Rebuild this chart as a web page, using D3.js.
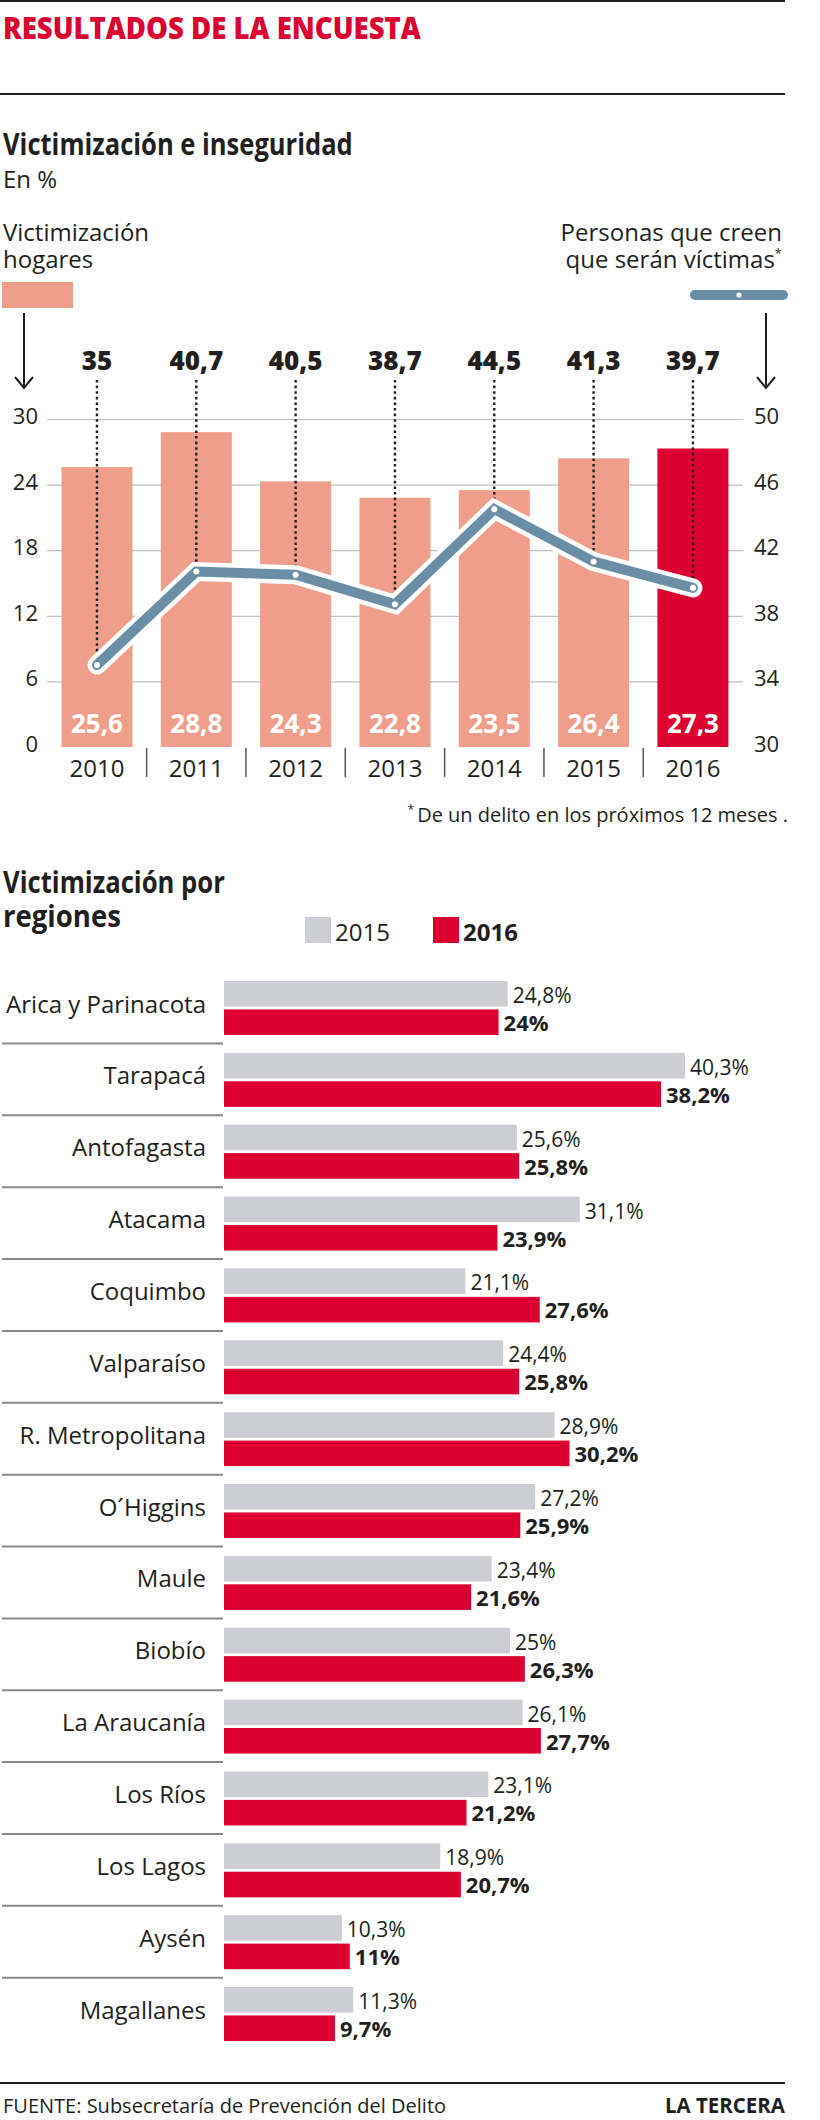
<!DOCTYPE html>
<html><head><meta charset="utf-8">
<script src="https://cdn.jsdelivr.net/npm/d3@7"></script>
<style>
body{margin:0;background:#fff;}
svg{display:block;font-family:"Open Sans","Noto Sans",sans-serif;}
</style>
</head><body>
<svg id="c" width="820" height="2120"></svg>
<script>
// ---------- data ----------
const years = ["2010","2011","2012","2013","2014","2015","2016"];
const victimHogares = [25.6, 28.8, 24.3, 22.8, 23.5, 26.4, 27.3];
const creenVictimas = [35, 40.7, 40.5, 38.7, 44.5, 41.3, 39.7];
const leftTicks = [0, 6, 12, 18, 24, 30];
const rightTicks = [30, 34, 38, 42, 46, 50];

const regions = ["Arica y Parinacota","Tarapacá","Antofagasta","Atacama","Coquimbo","Valparaíso",
  "R. Metropolitana","O´Higgins","Maule","Biobío","La Araucanía","Los Ríos","Los Lagos","Aysén","Magallanes"];
const reg2015 = [24.8, 40.3, 25.6, 31.1, 21.1, 24.4, 28.9, 27.2, 23.4, 25, 26.1, 23.1, 18.9, 10.3, 11.3];
const reg2016 = [24, 38.2, 25.8, 23.9, 27.6, 25.8, 30.2, 25.9, 21.6, 26.3, 27.7, 21.2, 20.7, 11, 9.7];
const seriesYears = ["2015", "2016"];

// ---------- style ----------
const ink = "#231f20", red = "#dc0030", salmon = "#ef9e8b", grey = "#cdced3", blue = "#6a8ea6";
const fmt = v => String(v).replace(".", ",");
const svg = d3.select("#c");

function condense(sel, target) {
  const w = sel.node().getComputedTextLength();
  const x = +sel.attr("x"), y = +sel.attr("y");
  const f = target / w;
  sel.attr("transform", `translate(${x},${y}) scale(${f},1) translate(${-x},${-y})`);
  return f;
}

// ---------- header ----------
svg.append("line").attr("x1",0).attr("x2",785).attr("y1",1).attr("y2",1).attr("stroke",ink).attr("stroke-width",2);
const t1 = svg.append("text").attr("x",3).attr("y",39).attr("fill",red).attr("font-size",30).attr("font-weight",800)
  .text("RESULTADOS DE LA ENCUESTA");
condense(t1, 418);
svg.append("line").attr("x1",0).attr("x2",785).attr("y1",94).attr("y2",94).attr("stroke",ink).attr("stroke-width",2);

const st = svg.append("text").attr("x",3).attr("y",155).attr("fill",ink).attr("font-size",31).attr("font-weight",700)
  .text("Victimización e inseguridad");
condense(st, 350);
svg.append("text").attr("x",3).attr("y",188).attr("fill",ink).attr("font-size",24).text("En %");

// legends
svg.append("text").attr("x",3).attr("y",241).attr("fill",ink).attr("font-size",24).text("Victimización");
svg.append("text").attr("x",3).attr("y",268).attr("fill",ink).attr("font-size",24).text("hogares");
svg.append("rect").attr("x",2).attr("y",282).attr("width",71).attr("height",26).attr("fill",salmon);

svg.append("text").attr("x",782).attr("y",241).attr("text-anchor","end").attr("fill",ink).attr("font-size",24).text("Personas que creen");
const lt2 = svg.append("text").attr("x",782).attr("y",268).attr("text-anchor","end").attr("fill",ink).attr("font-size",24);
lt2.append("tspan").text("que serán víctimas");
lt2.append("tspan").attr("font-size",13).attr("dy",-10).text("*");
svg.append("line").attr("x1",695).attr("x2",783).attr("y1",295).attr("y2",295).attr("stroke",blue)
  .attr("stroke-width",10).attr("stroke-linecap","round");
svg.append("circle").attr("cx",739).attr("cy",295).attr("r",2.6).attr("fill","#fff");

// arrows
[24, 766].forEach(ax => {
  svg.append("path").attr("d",`M${ax},313V388M${ax-9},377L${ax},388L${ax+9},377`)
    .attr("fill","none").attr("stroke",ink).attr("stroke-width",2);
});

// ---------- combo chart ----------
const x = d3.scaleBand().domain(years).range([47.3, 742.6]).paddingInner(0.285).paddingOuter(0.1425);
const yL = d3.scaleLinear().domain([0, 30]).range([747, 419]);
const yR = d3.scaleLinear().domain([30, 50]).range([747, 419]);
const bw = x.bandwidth(), step = x.step();
const cx = y => x(y) + bw / 2;

// grid
const grid = svg.append("g").attr("transform","translate(743,0)")
  .call(d3.axisLeft(yL).tickValues(leftTicks.filter(d => d > 0)).tickSize(696).tickFormat(""));
grid.select(".domain").remove();
grid.selectAll("line").attr("stroke","#c2c2c2").attr("stroke-width",1.2);

// axis labels
const la = svg.append("g").attr("transform","translate(38,0)")
  .call(d3.axisLeft(yL).tickValues(leftTicks).tickSize(0).tickPadding(0));
la.select(".domain").remove();
la.selectAll("text").attr("font-size",22).attr("fill",ink).attr("font-family","Open Sans").attr("dy","0.2em");

const ra = svg.append("g").attr("transform","translate(754,0)")
  .call(d3.axisRight(yR).tickValues(rightTicks).tickSize(0).tickPadding(0));
ra.select(".domain").remove();
ra.selectAll("text").attr("font-size",22).attr("fill",ink).attr("font-family","Open Sans").attr("dy","0.2em");

// bars
const comboData = years.map((y, i) => ({year: y, bar: victimHogares[i], line: creenVictimas[i]}));
svg.append("g").selectAll("rect").data(comboData).join("rect")
  .attr("x", d => x(d.year)).attr("width", bw)
  .attr("y", d => yL(d.bar)).attr("height", d => yL(0) - yL(d.bar))
  .attr("fill", (d, i) => i === years.length - 1 ? red : salmon);

svg.append("g").selectAll("text").data(comboData).join("text")
  .attr("x", d => cx(d.year)).attr("y", 733).attr("text-anchor","middle")
  .attr("fill","#fff").attr("font-size",26).attr("font-weight",700).text(d => fmt(d.bar));

// x axis
const xa = svg.append("g").attr("transform","translate(0,747)")
  .call(d3.axisBottom(x).tickSize(0).tickPadding(0));
xa.select(".domain").remove();
xa.selectAll("text").attr("font-size",24).attr("fill",ink).attr("font-family","Open Sans").attr("y",30).attr("dy",0);
svg.append("g").selectAll("line").data(years.slice(0, -1)).join("line")
  .attr("x1", d => cx(d) + step / 2).attr("x2", d => cx(d) + step / 2)
  .attr("y1", 748).attr("y2", 777).attr("stroke","#555").attr("stroke-width",1.5);

// dotted leaders + top labels
svg.append("g").selectAll("line").data(comboData).join("line")
  .attr("x1", d => cx(d.year)).attr("x2", d => cx(d.year))
  .attr("y1", 380).attr("y2", d => yR(d.line))
  .attr("stroke", ink).attr("stroke-width", 2.4).attr("stroke-dasharray","2.6,3");
svg.append("g").selectAll("text").data(comboData).join("text")
  .attr("x", d => cx(d.year)).attr("y", 370).attr("text-anchor","middle")
  .attr("fill", ink).attr("font-size",26).attr("font-weight",800).text(d => fmt(d.line));

// line
const lineGen = d3.line().x(d => cx(d.year)).y(d => yR(d.line));
svg.append("path").datum(comboData).attr("d", lineGen).attr("fill","none").attr("stroke","#fff")
  .attr("stroke-width",19).attr("stroke-linecap","round").attr("stroke-linejoin","miter");
svg.append("path").datum(comboData).attr("d", lineGen).attr("fill","none").attr("stroke",blue)
  .attr("stroke-width",10).attr("stroke-linecap","round").attr("stroke-linejoin","miter");
svg.append("g").selectAll("circle").data(comboData).join("circle")
  .attr("cx", d => cx(d.year)).attr("cy", d => yR(d.line)).attr("r",3.6)
  .attr("fill","#fff").attr("stroke","#56798f").attr("stroke-width",0.8);

// footnote
const fn = svg.append("text").attr("x",788).attr("y",822).attr("text-anchor","end").attr("fill",ink).attr("font-size",20);
fn.append("tspan").attr("font-size",12).attr("dy",-8).text("* ");
fn.append("tspan").attr("dy",8).text("De un delito en los próximos 12 meses .");

// ---------- regions chart ----------
const s1 = svg.append("text").attr("x",3).attr("y",893).attr("fill",ink).attr("font-size",31).attr("font-weight",700)
  .text("Victimización por");
condense(s1, 222);
const s2 = svg.append("text").attr("x",3).attr("y",927).attr("fill",ink).attr("font-size",31).attr("font-weight",700)
  .text("regiones");
condense(s2, 118);

// legend
const legX = {"2015": 305, "2016": 433};
const legCol = {"2015": grey, "2016": red};
seriesYears.forEach(s => {
  svg.append("rect").attr("x", legX[s]).attr("y", 917).attr("width", 26).attr("height", 26).attr("fill", legCol[s]);
  svg.append("text").attr("x", legX[s] + 30).attr("y", 941).attr("fill", ink).attr("font-size", 24)
    .attr("font-weight", s === "2016" ? 700 : 400).text(s);
});

const rowH = 71.86;
const yRow = d3.scaleBand().domain(regions).range([981, 981 + regions.length * rowH]).padding(0);
const ySub = d3.scaleBand().domain(seriesYears).range([0, 54]).paddingInner(0.1);
const xR = d3.scaleLinear().domain([0, 50]).range([224, 796]);

const regData = regions.map((r, i) => ({region: r, "2015": reg2015[i], "2016": reg2016[i]}));
const rows = svg.append("g").selectAll("g").data(regData).join("g")
  .attr("transform", d => `translate(0,${yRow(d.region)})`);

rows.append("text").attr("x", 206).attr("y", 31.5).attr("text-anchor","end")
  .attr("fill", ink).attr("font-size", 24).text(d => d.region);

rows.filter((d, i) => i < regions.length - 1).append("line")
  .attr("x1", 2).attr("x2", 223).attr("y1", 62.5).attr("y2", 62.5)
  .attr("stroke", "#8a8a8a").attr("stroke-width", 2);

seriesYears.forEach(s => {
  rows.append("rect").attr("x", xR(0)).attr("y", ySub(s))
    .attr("width", d => xR(d[s]) - xR(0)).attr("height", ySub.bandwidth())
    .attr("fill", legCol[s]);
  rows.append("text").attr("x", d => xR(d[s]) + 5)
    .attr("y", s === "2015" ? 22 : 50)
    .attr("fill", ink).attr("font-size", s === "2015" ? 21 : 22)
    .attr("font-weight", s === "2016" ? 700 : 400)
    .text(d => fmt(d[s]) + "%");
});

// ---------- footer ----------
svg.append("line").attr("x1",0).attr("x2",785).attr("y1",2083).attr("y2",2083).attr("stroke",ink).attr("stroke-width",2);
svg.append("text").attr("x",3).attr("y",2113).attr("fill",ink).attr("font-size",20)
  .text("FUENTE: Subsecretaría de Prevención del Delito");
const lt = svg.append("text").attr("x",665).attr("y",2113).attr("fill",ink).attr("font-size",21).attr("font-weight",700)
  .text("LA TERCERA");
condense(lt, 120);
</script>
</body></html>
